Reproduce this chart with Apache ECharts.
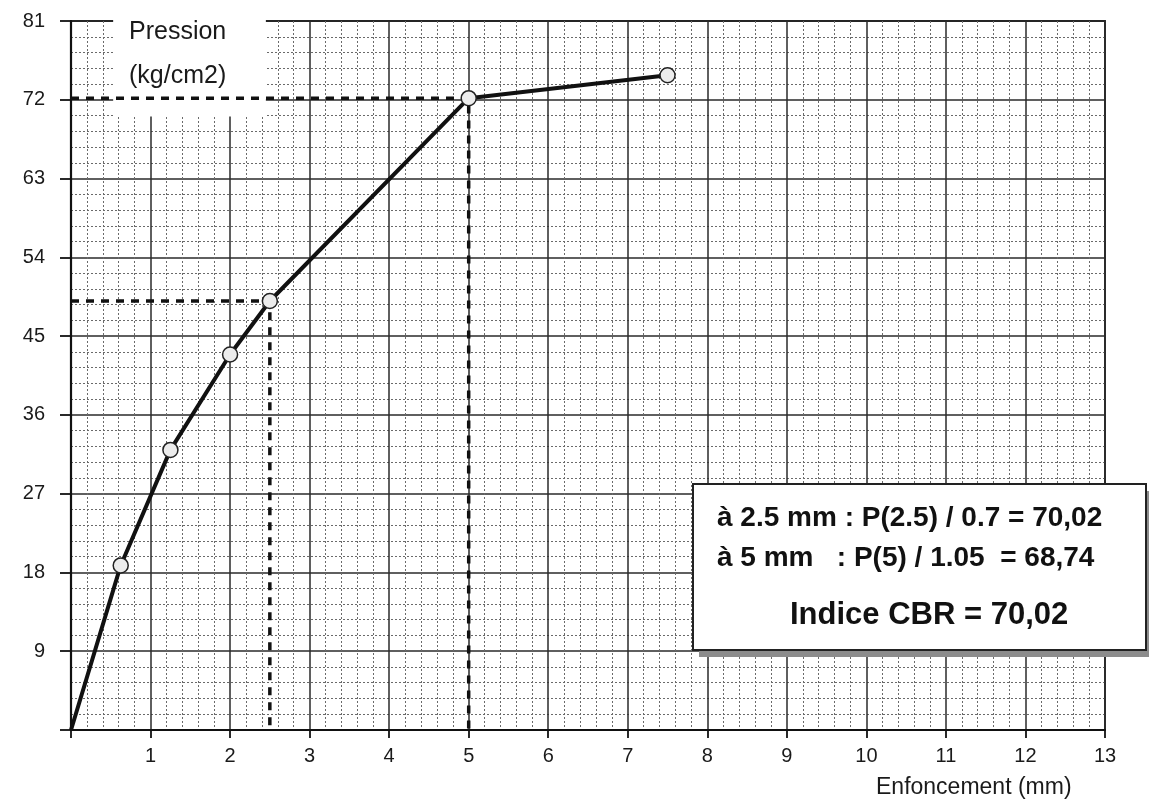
<!DOCTYPE html>
<html><head><meta charset="utf-8">
<script src="https://cdn.jsdelivr.net/npm/echarts@6/dist/echarts.min.js"></script>
<style>html,body{margin:0;padding:0;background:#fff}#c{width:1149px;height:810px}</style>
</head><body><div id="c"></div>
<script>
// Data
const penetration = [0, 0.625, 1.25, 2, 2.5, 5, 7.5];          // mm
const pressure    = [0, 18.8, 32.0, 42.9, 49.01, 72.18, 74.8];  // kg/cm2
const xTickValues = [0,1,2,3,4,5,6,7,8,9,10,11,12,13];
const yTickValues = [0,9,18,27,36,45,54,63,72,81];
const reading25 = [2.5, 49.01];
const reading5  = [5, 72.18];
const yTitle = ['Pression', '(kg/cm2)'];
const xTitle = 'Enfoncement (mm)';
const resultLines = ['à 2.5 mm : P(2.5) / 0.7 = 70,02', 'à 5 mm   : P(5) / 1.05  = 68,74'];
const resultMain = 'Indice CBR = 70,02';

const FONT = '"Liberation Sans", Arial, sans-serif';
const chart = echarts.init(document.getElementById('c'), null, {renderer: 'canvas'});

function readingPath(p){ return [[0, p[1]], [p[0], p[1]], [p[0], 0]]; }

chart.setOption({
  animation: false,
  backgroundColor: '#fff',
  grid: {left: 71, right: 44, top: 21, bottom: 80, show: true, borderColor: '#1a1a1a', borderWidth: 1.8},
  xAxis: {
    type: 'value', min: xTickValues[0], max: xTickValues[xTickValues.length-1], interval: 1,
    axisLine: {show: true, onZero: false, lineStyle: {color: '#111', width: 2.2}},
    axisTick: {show: true, length: 8, lineStyle: {color: '#111', width: 1.8}},
    axisLabel: {margin: 16, color: '#1a1a1a', fontSize: 20, fontFamily: FONT,
      formatter: v => v === 0 ? '' : String(v)},
    splitLine: {show: true, lineStyle: {color: '#2a2a2a', width: 1.5}},
    minorTick: {show: false, splitNumber: 5},
    minorSplitLine: {show: true, lineStyle: {color: '#6a6a6a', width: 1, type: [2, 2]}}
  },
  yAxis: {
    type: 'value', min: yTickValues[0], max: yTickValues[yTickValues.length-1], interval: 9,
    axisLine: {show: true, onZero: false, lineStyle: {color: '#111', width: 2.2}},
    axisTick: {show: true, length: 11, lineStyle: {color: '#111', width: 1.8}},
    axisLabel: {margin: 26, color: '#1a1a1a', fontSize: 20, fontFamily: FONT,
      formatter: v => v === 0 ? '' : String(v)},
    splitLine: {show: true, lineStyle: {color: '#2a2a2a', width: 1.5}},
    minorTick: {show: false, splitNumber: 5},
    minorSplitLine: {show: true, lineStyle: {color: '#6a6a6a', width: 1, type: [2, 2]}}
  },
  series: [
    {
      type: 'line', z: 3, data: readingPath(reading25), symbol: 'none',
      lineStyle: {color: '#111', width: 3.5, type: [8, 7]}
    },
    {
      type: 'line', z: 3, data: readingPath(reading5), symbol: 'none',
      lineStyle: {color: '#111', width: 3.5, type: [8, 7]}
    },
    {
      type: 'line', z: 4,
      data: penetration.map((x, i) => ({value: [x, pressure[i]], symbol: i === 0 ? 'none' : 'circle'})),
      symbolSize: 15,
      showAllSymbol: true,
      lineStyle: {color: '#111', width: 4},
      itemStyle: {color: '#ececec', borderColor: '#222', borderWidth: 1.5}
    }
  ]
});

// White patch behind the y-axis title (positioned through the axes)
const pA = chart.convertToPixel({gridIndex: 0}, [0.53, 81]);
const pB = chart.convertToPixel({gridIndex: 0}, [2.45, 70.1]);

chart.setOption({
  graphic: [
    {type: 'rect', z: 1, shape: {x: pA[0], y: pA[1] - 4, width: pB[0] - pA[0], height: pB[1] - pA[1] + 4},
      style: {fill: '#fff'}},
    {type: 'text', z: 5, left: 129, top: 20, style: {text: yTitle[0], font: '25px ' + FONT, fill: '#1a1a1a'}},
    {type: 'text', z: 5, left: 129, top: 64, style: {text: yTitle[1], font: '25px ' + FONT, fill: '#1a1a1a'}},
    {type: 'text', z: 5, left: 876, top: 776, style: {text: xTitle, font: '23px ' + FONT, fill: '#1a1a1a'}},
    {type: 'rect', z: 6, shape: {x: 699, y: 491, width: 460, height: 166}, style: {fill: '#8c8c8c'}},
    {type: 'rect', z: 7, shape: {x: 693, y: 484, width: 453, height: 166},
      style: {fill: '#fff', stroke: '#222', lineWidth: 2}},
    {type: 'text', z: 8, left: 717, top: 504, style: {text: resultLines[0], font: 'bold 28px ' + FONT, fill: '#111'}},
    {type: 'text', z: 8, left: 717, top: 544, style: {text: resultLines[1], font: 'bold 28px ' + FONT, fill: '#111'}},
    {type: 'text', z: 8, left: 790, top: 600, style: {text: resultMain, font: 'bold 31px ' + FONT, fill: '#111'}}
  ]
});
</script>
</body></html>
